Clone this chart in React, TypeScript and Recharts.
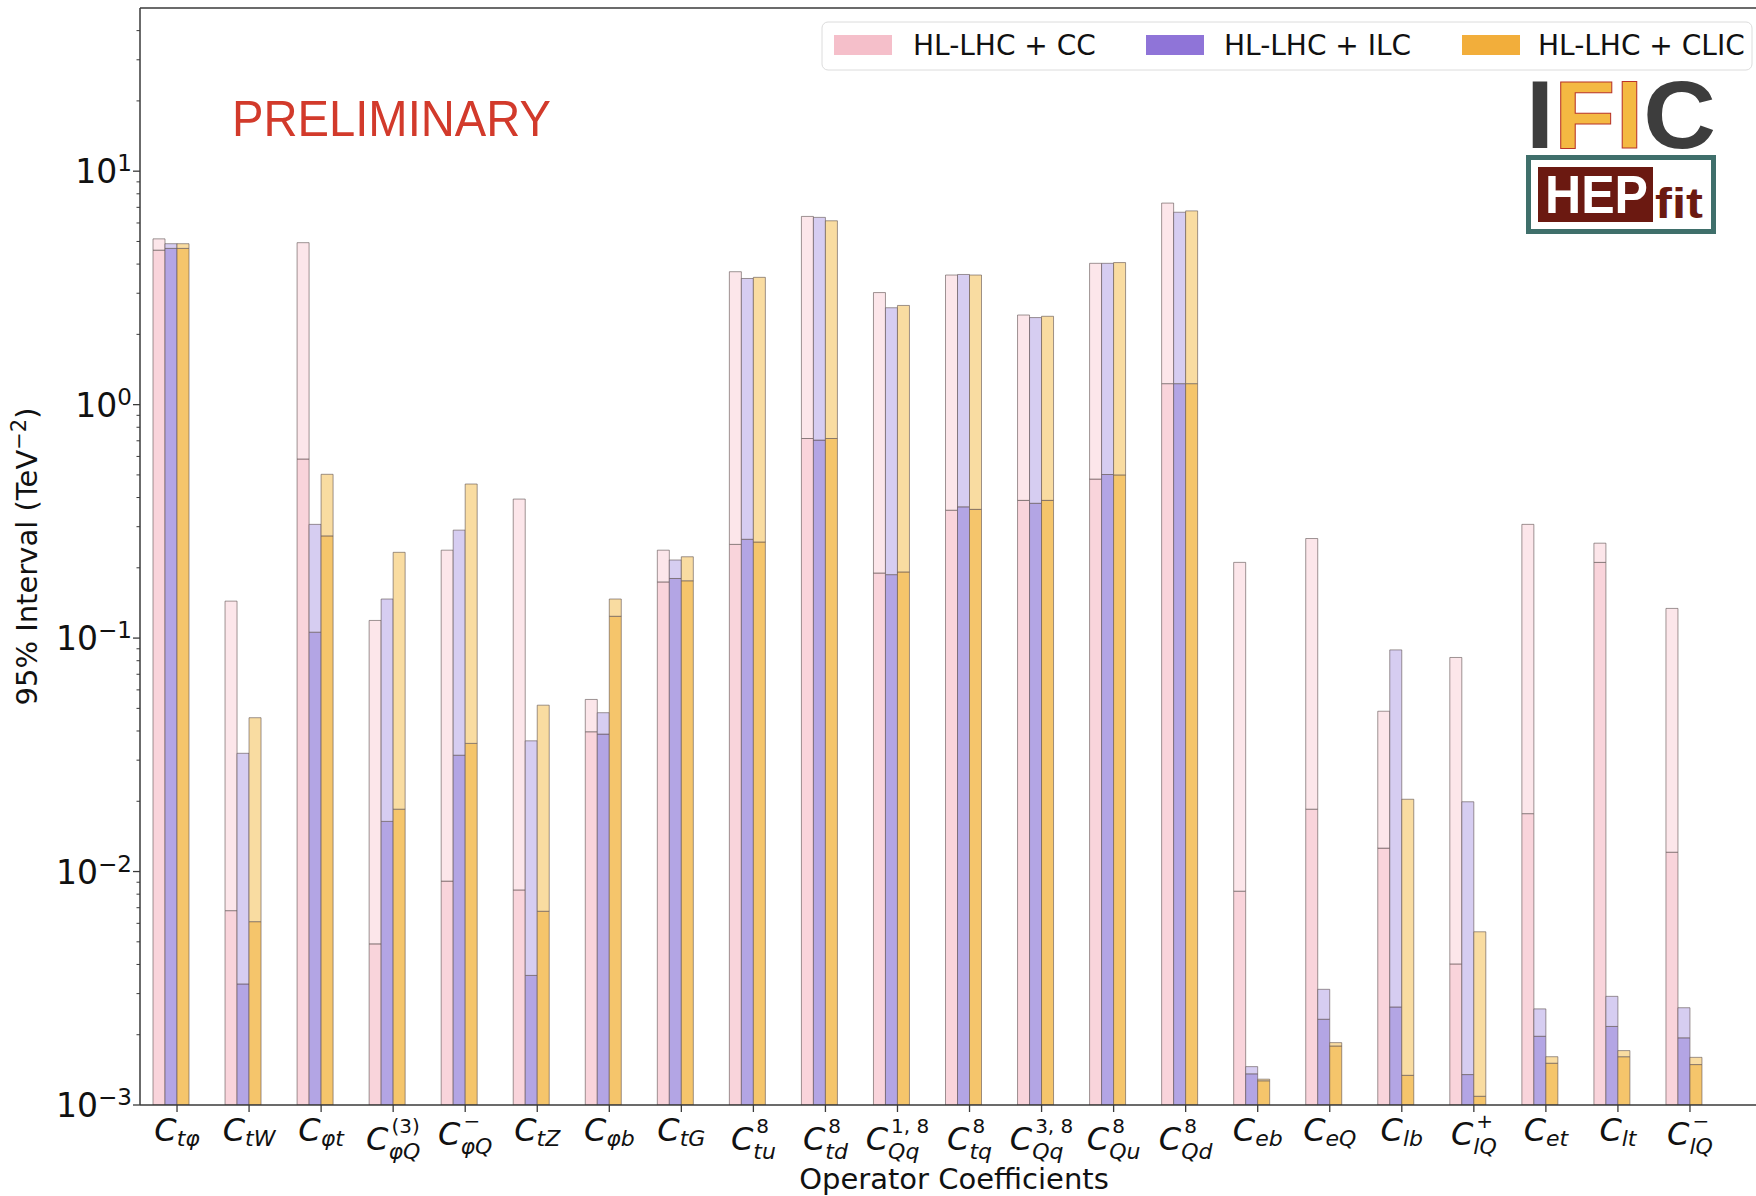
import { Bar, BarChart, Label, ReferenceLine, XAxis, YAxis } from "recharts";

// operator coefficients on the x axis
const categories = [
  "C_tφ", "C_tW", "C_φt", "C_φQ^(3)", "C_φQ^−", "C_tZ", "C_φb", "C_tG",
  "C_tu^8", "C_td^8", "C_Qq^1,8", "C_tq^8", "C_Qq^3,8", "C_Qu^8", "C_Qd^8",
  "C_eb", "C_eQ", "C_lb", "C_lQ^+", "C_et", "C_lt", "C_lQ^−",
];
const tickSub = [
  "tφ", "tW", "φt", "φQ", "φQ", "tZ", "φb", "tG", "tu", "td", "Qq",
  "tq", "Qq", "Qu", "Qd", "eb", "eQ", "lb", "lQ", "et", "lt", "lQ",
];
const tickSup = [
  "", "", "", "(3)", "−", "", "", "", "8", "8", "1, 8",
  "8", "3, 8", "8", "8", "", "", "", "+", "", "", "−",
];

// 95% intervals (TeV^-2): global fit (light) and individual (dark)
const ccGlobal = [5.13, 0.144, 4.94, 0.119, 0.238, 0.394, 0.0546, 0.238, 3.71, 6.4, 3.02, 3.59, 2.42, 4.03, 7.3, 0.211, 0.267, 0.0486, 0.0826, 0.307, 0.255, 0.134];
const ccIndiv = [4.59, 0.0068, 0.585, 0.0049, 0.0091, 0.00834, 0.0397, 0.174, 0.252, 0.716, 0.19, 0.353, 0.389, 0.48, 1.23, 0.00824, 0.0185, 0.0126, 0.00402, 0.0177, 0.211, 0.0121];
const ilcGlobal = [4.89, 0.0321, 0.307, 0.147, 0.29, 0.0363, 0.0479, 0.216, 3.47, 6.34, 2.6, 3.61, 2.36, 4.03, 6.67, 0.00146, 0.00313, 0.089, 0.0199, 0.00258, 0.00292, 0.00261];
const ilcIndiv = [4.67, 0.0033, 0.106, 0.0164, 0.0315, 0.00359, 0.0388, 0.18, 0.265, 0.705, 0.187, 0.365, 0.378, 0.502, 1.23, 0.00136, 0.00233, 0.00263, 0.00135, 0.00197, 0.00217, 0.00194];
const clicGlobal = [4.89, 0.0456, 0.503, 0.233, 0.457, 0.0516, 0.147, 0.223, 3.51, 6.13, 2.66, 3.59, 2.39, 4.06, 6.76, 0.00129, 0.00185, 0.0204, 0.00552, 0.00161, 0.00171, 0.0016];
const clicIndiv = [4.67, 0.0061, 0.274, 0.0185, 0.0354, 0.00676, 0.124, 0.176, 0.258, 0.716, 0.192, 0.356, 0.389, 0.5, 1.23, 0.00127, 0.00179, 0.00134, 0.00109, 0.00151, 0.00161, 0.00149];

const seriesNames = ["HL-LHC + CC", "HL-LHC + ILC", "HL-LHC + CLIC"];
const legendColors = ["#f5bfca", "#8f74d8", "#f2ae3b"];
const darkColors = ["#f9d4db", "#b3a5e4", "#f5c56b"];
const lightColors = ["#fce6ea", "#d6cdf1", "#f9dca1"];

const yTicks = [
  0.001, 0.002, 0.003, 0.004, 0.005, 0.006, 0.007, 0.008, 0.009,
  0.01, 0.02, 0.03, 0.04, 0.05, 0.06, 0.07, 0.08, 0.09,
  0.1, 0.2, 0.3, 0.4, 0.5, 0.6, 0.7, 0.8, 0.9,
  1, 2, 3, 4, 5, 6, 7, 8, 9,
  10, 20, 30, 40,
];

const rows = categories.map((name, i) => ({
  name,
  ccIndiv: ccIndiv[i],
  ccRest: Math.max(ccGlobal[i] - ccIndiv[i], 0),
  ilcIndiv: ilcIndiv[i],
  ilcRest: Math.max(ilcGlobal[i] - ilcIndiv[i], 0),
  clicIndiv: clicIndiv[i],
  clicRest: Math.max(clicGlobal[i] - clicIndiv[i], 0),
}));

const FONT = "DejaVu Sans";
const INK = "#111";
const SPINE = "#3a3a3a";

const glyphW: Record<string, number> = {
  t: 0.392, "φ": 0.66, W: 0.989, Z: 0.685, b: 0.635, G: 0.775, u: 0.634,
  d: 0.635, q: 0.635, Q: 0.787, e: 0.615, l: 0.278, "(": 0.39, ")": 0.39,
  "1": 0.636, "3": 0.636, "8": 0.636, ",": 0.318, " ": 0.318, "+": 0.838, "−": 0.838,
};
const textWidth = (s: string) => s.split("").reduce((w, c) => w + (glyphW[c] ?? 0.6), 0);

function XTick(props: any) {
  const { x, y, payload } = props;
  const i = categories.indexOf(payload.value);
  const sub = tickSub[i];
  const sup = tickSup[i];
  const main = 32;
  const subSize = 22;
  const supSize = 20;
  const cW = 0.698 * main;
  const total = cW + Math.max(textWidth(sub) * subSize, textWidth(sup) * supSize + 3);
  const x0 = x - total / 2;
  const lift = sup === "" ? 0 : sup === "+" || sup === "−" ? 4 : 9;
  const base = y + 29 + lift;
  const subDrop = sup ? 9 : 5;
  return (
    <text x={x0} y={base} fontFamily={FONT} fill={INK} fontSize={main}>
      <tspan fontStyle="italic">C</tspan>
      <tspan fontStyle="italic" fontSize={subSize} dy={subDrop}>{sub}</tspan>
      {sup && (
        <tspan fontSize={supSize} x={x0 + cW + 3} dy={-subDrop - 17}>{sup}</tspan>
      )}
    </text>
  );
}

function YTick(props: any) {
  const { x, y, payload } = props;
  const e = Math.log10(payload.value);
  const major = Math.abs(e - Math.round(e)) < 1e-6;
  const exp = Math.round(e);
  return (
    <g>
      <line x1={x} x2={x - (major ? 7 : 3.5)} y1={y} y2={y} stroke={SPINE} strokeWidth={major ? 1.3 : 1} />
      {major && (
        <text x={x - 8} y={y + 12} textAnchor="end" fontSize={33} fontFamily={FONT} fill={INK}>
          10<tspan dy={-12} fontSize={23}>{exp < 0 ? `−${-exp}` : `${exp}`}</tspan>
        </text>
      )}
    </g>
  );
}

function Overlay() {
  const swatchX = [834, 1146, 1462];
  const textX = [913, 1224, 1538];
  return (
    <svg width={1756} height={1196} style={{ position: "absolute", left: 0, top: 0, pointerEvents: "none" }}>
      <text x={232} y={136} fontFamily="Liberation Sans" fontSize={50} fill="#d23a2b" textLength={319} lengthAdjust="spacingAndGlyphs">
        PRELIMINARY
      </text>

      <rect x={822} y={22} width={930} height={48} rx={6} fill="#fff" fillOpacity={0.85} stroke="#dcdcdc" />
      {seriesNames.map((s, i) => (
        <g key={s}>
          <rect x={swatchX[i]} y={35} width={58} height={20} fill={legendColors[i]} />
          <text x={textX[i]} y={55} fontFamily={FONT} fontSize={28} fill={INK}>{s}</text>
        </g>
      ))}

      {/* IFIC / HEPfit logo */}
      <text x={1526} y={148} fontFamily="Liberation Sans" fontWeight="bold" fontSize={97} textLength={190} lengthAdjust="spacingAndGlyphs" stroke="#b8352a" strokeWidth={1}>
        <tspan fill="#3d3d3d" stroke="none">I</tspan>
        <tspan fill="#f4b942">FI</tspan>
        <tspan fill="#3d3d3d" stroke="none">C</tspan>
      </text>
      <rect x={1528.5} y={157.5} width={185} height={74} fill="#fff" stroke="#3f6f6b" strokeWidth={5} />
      <rect x={1538} y={167} width={115} height={55} fill="#6b1911" />
      <text x={1545} y={213} fontFamily="Liberation Sans" fontWeight="bold" fontSize={53} fill="#fff" textLength={103} lengthAdjust="spacingAndGlyphs">HEP</text>
      <text x={1655} y={218} fontFamily="Liberation Sans" fontWeight="bold" fontSize={42} fill="#6b1911" textLength={48} lengthAdjust="spacingAndGlyphs">fit</text>
    </svg>
  );
}

export default function App() {
  const barStroke = { stroke: "#5f5252", strokeOpacity: 0.6, strokeWidth: 1 };
  return (
    <div style={{ position: "relative", width: 1756, height: 1196, overflow: "hidden", background: "#fff", fontFamily: FONT }}>
      <style>{`body{margin:0}`}</style>
      <BarChart
        width={1768}
        height={1196}
        data={rows}
        margin={{ top: 8, right: 0, bottom: 1, left: 0 }}
        barGap={0}
        barSize={12}
      >
        <XAxis
          dataKey="name"
          height={90}
          interval={0}
          tickSize={7}
          tickMargin={0}
          tick={<XTick />}
          padding={{ left: 1, right: 42 }}
          axisLine={{ stroke: SPINE, strokeWidth: 1.5 }}
          tickLine={{ stroke: SPINE, strokeWidth: 1.3 }}
        >
          <Label
            content={(p: any) => {
              const vb = p.viewBox;
              return (
                <text x={vb.x + vb.width / 2} y={vb.y + vb.height - 6} textAnchor="middle" fontFamily={FONT} fontSize={29} fill={INK}>
                  Operator Coefficients
                </text>
              );
            }}
          />
        </XAxis>
        <YAxis
          type="number"
          scale="log"
          domain={[0.001, 50]}
          allowDataOverflow
          ticks={yTicks}
          interval={0}
          width={140}
          tickSize={0}
          tickMargin={0}
          tickLine={false}
          tick={<YTick />}
          axisLine={{ stroke: SPINE, strokeWidth: 1.5 }}
        >
          <Label
            content={(p: any) => {
              const vb = p.viewBox;
              const cy = vb.y + vb.height / 2;
              return (
                <text transform={`translate(37, ${cy}) rotate(-90)`} textAnchor="middle" fontFamily={FONT} fontSize={29} fill={INK}>
                  95% Interval (TeV<tspan dy={-11} fontSize={21}>−2</tspan><tspan dy={11}>)</tspan>
                </text>
              );
            }}
          />
        </YAxis>
        <ReferenceLine y={50} stroke={SPINE} strokeWidth={1.5} />

        <Bar dataKey="ccIndiv" stackId="cc" fill={darkColors[0]} {...barStroke} isAnimationActive={false} />
        <Bar dataKey="ccRest" stackId="cc" fill={lightColors[0]} {...barStroke} isAnimationActive={false} />
        <Bar dataKey="ilcIndiv" stackId="ilc" fill={darkColors[1]} {...barStroke} isAnimationActive={false} />
        <Bar dataKey="ilcRest" stackId="ilc" fill={lightColors[1]} {...barStroke} isAnimationActive={false} />
        <Bar dataKey="clicIndiv" stackId="clic" fill={darkColors[2]} {...barStroke} isAnimationActive={false} />
        <Bar dataKey="clicRest" stackId="clic" fill={lightColors[2]} {...barStroke} isAnimationActive={false} />
        {/* empty fourth slot so the tick sits between the ILC and CLIC bars */}
        <Bar dataKey="pad" stackId="pad" fill="none" isAnimationActive={false} />
      </BarChart>
      <Overlay />
    </div>
  );
}
